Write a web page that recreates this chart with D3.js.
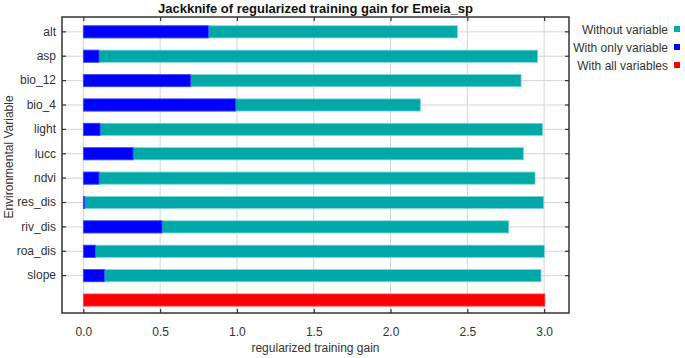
<!DOCTYPE html>
<html>
<head>
<meta charset="utf-8">
<script src="https://cdn.jsdelivr.net/npm/d3@7"></script>
<style>
  html, body { margin: 0; padding: 0; background: #fff; }
  svg { display: block; font-family: "Liberation Sans", Arial, sans-serif; }
</style>
</head>
<body>
<div id="chart"></div>
<script>
const VARIABLES = ['alt', 'asp', 'bio_12', 'bio_4', 'light', 'lucc', 'ndvi', 'res_dis', 'riv_dis', 'roa_dis', 'slope']
const WITHOUT = [2.435, 2.958, 2.85, 2.194, 2.99, 2.865, 2.941, 2.997, 2.77, 3.003, 2.98]
const ONLY    = [0.814, 0.102, 0.699, 0.992, 0.109, 0.324, 0.102, 0.009, 0.512, 0.078, 0.137]
const ALL_VARS = 3.005
const X_TICKS = [0, 0.5, 1.0, 1.5, 2.0, 2.5, 3.0]
const LEGEND = ['Without variable', 'With only variable', 'With all variables']

const COLORS = { without: '#00a8a8', only: '#0000ff', all: '#ff0000' }
const EDGES  = { without: '#7fd6d6', only: '#4d4dff', all: '#ff4d4d' }

const W = 685, H = 358
const M = { top: 17, right: 116, bottom: 45, left: 62 }
const innerW = W - M.left - M.right
const innerH = H - M.top - M.bottom

const svg = d3.select('#chart').append('svg')
  .attr('width', W).attr('height', H)

const rows = VARIABLES.concat(['__all'])

const x = d3.scaleLinear().domain([-0.139, 3.162]).range([0, innerW])
const y = d3.scaleBand().domain(rows).range([0, innerH])
  .paddingInner(0.5).paddingOuter(0.32).align(0.56)

const g = svg.append('g').attr('transform', `translate(${M.left},${M.top})`)

// grid
g.append('g').selectAll('line').data(X_TICKS).join('line')
  .attr('x1', d => x(d)).attr('x2', d => x(d))
  .attr('y1', 0).attr('y2', innerH)
  .attr('stroke', '#d4d4d4').attr('stroke-width', 1)
g.append('g').selectAll('line').data(VARIABLES).join('line')
  .attr('x1', 0).attr('x2', innerW)
  .attr('y1', d => y(d) + y.bandwidth() / 2).attr('y2', d => y(d) + y.bandwidth() / 2)
  .attr('stroke', '#d4d4d4').attr('stroke-width', 1)

// bars
const bars = g.append('g')
bars.selectAll('rect.without').data(VARIABLES).join('rect')
  .attr('class', 'without')
  .attr('x', x(0)).attr('y', d => y(d))
  .attr('width', (d, i) => x(WITHOUT[i]) - x(0))
  .attr('height', y.bandwidth())
  .attr('fill', COLORS.without).attr('stroke', EDGES.without).attr('stroke-width', 0.8)
bars.selectAll('rect.only').data(VARIABLES).join('rect')
  .attr('class', 'only')
  .attr('x', x(0)).attr('y', d => y(d))
  .attr('width', (d, i) => x(ONLY[i]) - x(0))
  .attr('height', y.bandwidth())
  .attr('fill', COLORS.only).attr('stroke', EDGES.only).attr('stroke-width', 0.8)
bars.append('rect')
  .attr('x', x(0)).attr('y', y('__all'))
  .attr('width', x(ALL_VARS) - x(0))
  .attr('height', y.bandwidth())
  .attr('fill', COLORS.all).attr('stroke', EDGES.all).attr('stroke-width', 0.8)

// axes with inward ticks
const axisStyle = sel => {
  sel.select('.domain').remove()
  sel.selectAll('line').attr('stroke', '#333').attr('stroke-width', 1.2)
  sel.selectAll('text').attr('fill', '#333').attr('font-size', 12)
    .attr('font-family', '"Liberation Sans", Arial, sans-serif')
}

g.append('g').attr('transform', `translate(0,${innerH})`)
  .call(d3.axisBottom(x).tickValues(X_TICKS).tickFormat(d3.format('.1f')).tickSizeInner(-4).tickPadding(14))
  .call(axisStyle)
g.append('g')
  .call(d3.axisTop(x).tickValues(X_TICKS).tickFormat('').tickSizeInner(-4))
  .call(axisStyle)
g.append('g')
  .call(d3.axisLeft(y).tickValues(VARIABLES).tickSizeInner(-4).tickPadding(6))
  .call(axisStyle)
g.append('g').attr('transform', `translate(${innerW},0)`)
  .call(d3.axisRight(y).tickValues(VARIABLES).tickFormat('').tickSizeInner(-4))
  .call(axisStyle)

// frame
g.append('rect').attr('width', innerW).attr('height', innerH)
  .attr('fill', 'none').attr('stroke', '#333').attr('stroke-width', 1.5)

// title and axis labels
svg.append('text')
  .attr('x', M.left + innerW / 2).attr('y', 13)
  .attr('text-anchor', 'middle').attr('font-size', 13).attr('font-weight', 'bold')
  .attr('fill', '#111')
  .text('Jackknife of regularized training gain for Emeia_sp')

svg.append('text')
  .attr('x', M.left + innerW / 2).attr('y', 352)
  .attr('text-anchor', 'middle').attr('font-size', 12).attr('fill', '#333')
  .text('regularized training gain')

svg.append('text')
  .attr('transform', `translate(13,${M.top + innerH / 2 - 8}) rotate(-90)`)
  .attr('text-anchor', 'middle').attr('font-size', 12).attr('fill', '#333')
  .text('Environmental Variable')

// legend
const legendColors = [COLORS.without, COLORS.only, COLORS.all]
const lg = svg.append('g').selectAll('g').data(LEGEND).join('g')
  .attr('transform', (d, i) => `translate(0,${30 + i * 18})`)
lg.append('text')
  .attr('x', 668).attr('y', 4)
  .attr('text-anchor', 'end').attr('font-size', 12).attr('fill', '#333')
  .text(d => d)
lg.append('rect')
  .attr('x', 674).attr('y', -4).attr('width', 6).attr('height', 6)
  .attr('fill', (d, i) => legendColors[i])
</script>
</body>
</html>
